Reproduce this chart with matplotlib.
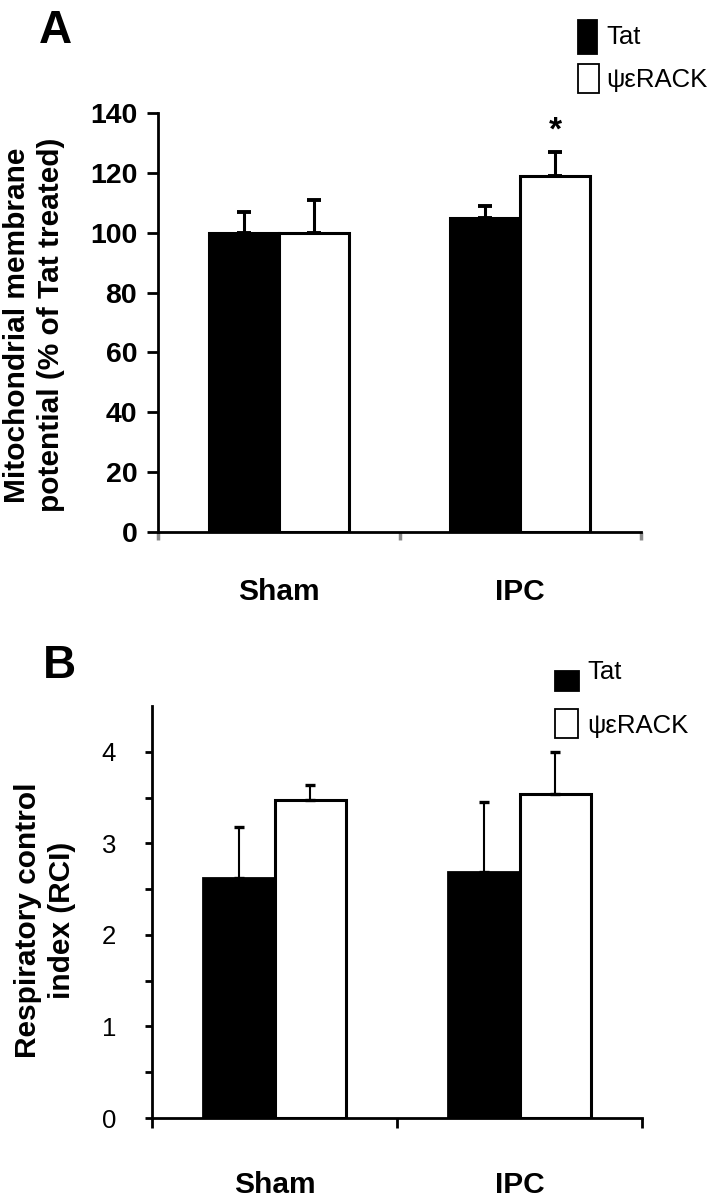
import numpy as np
import matplotlib
matplotlib.use("Agg")
import matplotlib.pyplot as plt
from matplotlib import font_manager
from matplotlib.patches import Rectangle

# data
groups = ["Sham", "IPC"]
series = ["Tat", "ψεRACK"]

mmp_tat = [100, 105]
mmp_tat_err = [7, 4]
mmp_psi = [100, 119]
mmp_psi_err = [11, 8]

rci_tat = [2.62, 2.69]
rci_tat_err = [0.56, 0.76]
rci_psi = [3.47, 3.54]
rci_psi_err = [0.17, 0.46]

names = {f.name for f in font_manager.fontManager.ttflist}
narrow = "Liberation Sans Narrow" if "Liberation Sans Narrow" in names else "Liberation Sans"
plt.rcParams["font.family"] = ["Liberation Sans", "DejaVu Sans"]

W, H = 714, 1199
fig = plt.figure(figsize=(W / 100, H / 100), dpi=100)


def px_axes(l, t, r, b):
    return fig.add_axes([l / W, 1 - b / H, (r - l) / W, (b - t) / H])


def fx(x):
    return x / W


def fy(y):
    return 1 - y / H


def legend_box(x, y, w, h, fill):
    fig.add_artist(Rectangle((fx(x), fy(y + h)), w / W, h / H, transform=fig.transFigure,
                             facecolor=fill, edgecolor="black", linewidth=1.3))


x = np.arange(len(groups)) + 0.5
w = 0.29

# ---------- panel A ----------
axA = px_axes(158, 113, 641, 532)
axA.bar(x - w / 2, mmp_tat, w, color="black", edgecolor="black", linewidth=2.2, zorder=2)
axA.bar(x + w / 2, mmp_psi, w, color="white", edgecolor="black", linewidth=2.2, zorder=3)
axA.errorbar(x - w / 2, mmp_tat, yerr=[np.zeros(2), mmp_tat_err], fmt="none", ecolor="black",
             elinewidth=2.2, capsize=4.7, capthick=2.8, zorder=4)
axA.errorbar(x + w / 2, mmp_psi, yerr=[np.zeros(2), mmp_psi_err], fmt="none", ecolor="black",
             elinewidth=2.2, capsize=4.7, capthick=2.8, zorder=4)
axA.text(x[1] + w / 2, 134, "*", ha="center", va="center", fontsize=24, fontweight="bold")

axA.set_xlim(0, 2)
axA.set_ylim(0, 140)
for s in ["top", "right"]:
    axA.spines[s].set_visible(False)
for s in ["left", "bottom"]:
    axA.spines[s].set_linewidth(2)
axA.set_yticks(np.arange(0, 141, 20))
axA.tick_params(axis="y", direction="out", length=8, width=2, pad=7, labelsize=20.5)
for t in axA.get_yticklabels():
    t.set_fontweight("bold")
axA.set_xticks([0, 1, 2])
axA.set_xticklabels([])
axA.tick_params(axis="x", which="major", direction="out", length=6, width=2.5, color="#8a8a8a")
axA.set_xticks(x, minor=True)
axA.set_xticklabels(groups, minor=True, fontsize=21.5, fontweight="bold")
axA.tick_params(axis="x", which="minor", length=0, pad=33)

fig.text(fx(34), fy(325), "Mitochondrial membrane\npotential (% of Tat treated)", rotation=90,
         ha="center", va="center", fontsize=21.5, fontweight="bold", linespacing=1.3)
fig.text(fx(39), fy(31), "A", ha="left", va="center", fontsize=33, fontweight="bold")

legend_box(578, 20, 19, 34, "black")
legend_box(578, 64, 21, 29, "white")
fig.text(fx(606), fy(37), series[0], ha="left", va="center", fontsize=18.5, family=[narrow, "DejaVu Sans"])
fig.text(fx(606), fy(80), series[1], ha="left", va="center", fontsize=18.5, family=[narrow, "DejaVu Sans"])

# ---------- panel B ----------
axB = px_axes(152, 706, 642, 1118)
axB.bar(x - w / 2, rci_tat, w, color="black", edgecolor="black", linewidth=2, zorder=2)
axB.bar(x + w / 2, rci_psi, w, color="white", edgecolor="black", linewidth=2.2, zorder=3)
axB.errorbar(x - w / 2, rci_tat, yerr=[np.zeros(2), rci_tat_err], fmt="none", ecolor="black",
             elinewidth=1.5, capsize=3.6, capthick=2.4, zorder=4)
axB.errorbar(x + w / 2, rci_psi, yerr=[np.zeros(2), rci_psi_err], fmt="none", ecolor="black",
             elinewidth=1.5, capsize=3.6, capthick=2.4, zorder=4)

axB.set_xlim(0, 2)
axB.set_ylim(0, 4.5)
for s in ["top", "right"]:
    axB.spines[s].set_visible(False)
for s in ["left", "bottom"]:
    axB.spines[s].set_linewidth(2)
axB.set_yticks(np.arange(0, 5, 1))
axB.set_yticks(np.arange(0.5, 4.0, 1), minor=True)
axB.tick_params(axis="y", which="both", direction="out", length=5, width=2, pad=21, labelsize=18.5)
axB.set_xticks([0, 1, 2])
axB.set_xticklabels([])
axB.tick_params(axis="x", which="major", direction="out", length=7, width=2, color="black")
axB.set_xticks(x, minor=True)
axB.set_xticklabels(groups, minor=True, fontsize=21.5, fontweight="bold")
axB.tick_params(axis="x", which="minor", length=0, pad=38)

fig.text(fx(45), fy(920), "Respiratory control\nindex (RCI)", rotation=90,
         ha="center", va="center", fontsize=21.5, fontweight="bold", linespacing=1.3)
fig.text(fx(43), fy(666), "B", ha="left", va="center", fontsize=33, fontweight="bold")

legend_box(555, 671, 24, 20, "black")
legend_box(555, 709, 23, 29, "white")
fig.text(fx(587), fy(672), series[0], ha="left", va="center", fontsize=18.5, family=[narrow, "DejaVu Sans"])
fig.text(fx(587), fy(726), series[1], ha="left", va="center", fontsize=18.5, family=[narrow, "DejaVu Sans"])

fig.savefig("out.png", dpi=100)
